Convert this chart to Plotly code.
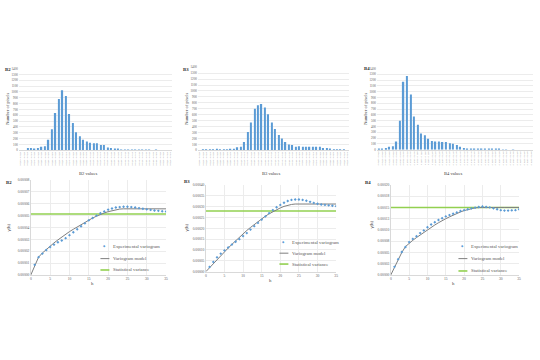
import plotly.graph_objects as go

# ---------------- data ----------------
# histogram bin labels (class ranges) per band
B2_bin_start, B2_bin_width = 0.0100, 0.0010
B3_bin_start, B3_bin_width = 0.0200, 0.0010
B4_bin_start, B4_bin_width = 0.0800, 0.0025
n_bins = 44

B2_counts = [0, 0, 40, 40, 30, 40, 60, 70, 180, 360, 640, 880, 1030, 930, 620, 470,
             310, 240, 180, 150, 130, 120, 120, 90, 90, 50, 40, 30, 20, 10, 5, 3,
             5, 3, 2, 1, 2, 1, 0, 1, 0, 0, 0, 0]
B3_counts = [0, 5, 10, 20, 20, 25, 20, 20, 20, 25, 25, 50, 60, 140, 310, 470,
             700, 760, 780, 720, 610, 470, 360, 260, 200, 140, 100, 90, 60, 70, 60, 60,
             60, 60, 60, 60, 40, 40, 30, 20, 10, 3, 2, 1]
B4_counts = [10, 20, 30, 50, 60, 140, 500, 1170, 1270, 950, 570, 430, 280, 250, 190, 150,
             140, 140, 130, 130, 110, 100, 80, 50, 30, 20, 10, 10, 10, 10, 10, 5,
             3, 2, 2, 1, 1, 0, 1, 0, 0, 0, 0, 0]

lag_h = list(range(1, 36))
model_h = list(range(0, 36))

B2_exp = [0.85, 1.5, 1.8, 2.1, 2.35, 2.55, 2.75, 2.9, 3.1, 3.35, 3.6, 3.85, 4.1, 4.35, 4.6,
          4.8, 5.0, 5.2, 5.35, 5.5, 5.6, 5.68, 5.72, 5.75, 5.75, 5.72, 5.68, 5.63, 5.58,
          5.53, 5.48, 5.43, 5.4, 5.37, 5.35]
B2_model = [0, 0.8, 1.5, 1.85, 2.15, 2.45, 2.7, 2.95, 3.2, 3.45, 3.65, 3.85, 4.05, 4.25,
            4.45, 4.6, 4.8, 4.95, 5.1, 5.22, 5.33, 5.42, 5.5, 5.55, 5.57, 5.57, 5.57, 5.57,
            5.57, 5.57, 5.57, 5.57, 5.57, 5.57, 5.57, 5.57]
B2_var = 5.14

B3_exp = [2.2, 4.5, 6.6, 8.3, 9.8, 11.2, 12.5, 13.8, 15.0, 16.4, 17.8, 19.4, 21.0, 22.5,
          24.0, 25.5, 27.0, 28.4, 29.7, 30.8, 31.8, 32.6, 33.1, 33.3, 33.3, 33.1, 32.7,
          32.2, 31.7, 31.3, 31.0, 30.8, 30.6, 30.4, 30.2]
B3_model = [0, 1.9, 3.8, 5.6, 7.4, 9.1, 10.9, 12.6, 14.3, 15.9, 17.5, 19.0, 20.4, 21.8,
            23.1, 24.4, 25.6, 26.7, 27.7, 28.6, 29.4, 30.1, 30.6, 31.0, 31.2, 31.2, 31.2,
            31.2, 31.2, 31.2, 31.2, 31.2, 31.2, 31.2, 31.2, 31.2]
B3_var = 28.0

B4_exp = [1.8, 3.5, 5.1, 6.2, 7.3, 8.0, 8.6, 9.3, 9.9, 10.6, 11.2, 11.7, 12.2, 12.6, 13.0,
          13.3, 13.6, 13.9, 14.2, 14.4, 14.6, 14.8, 14.95, 15.1, 15.2, 15.1, 15.0, 14.8,
          14.6, 14.4, 14.3, 14.3, 14.35, 14.4, 14.6]
B4_model = [0, 1.7, 3.4, 5.0, 6.3, 7.1, 7.7, 8.3, 8.9, 9.5, 10.1, 10.6, 11.1, 11.6, 12.1,
            12.5, 12.9, 13.3, 13.7, 14.0, 14.3, 14.55, 14.75, 14.9, 14.97, 15.0, 15.0, 15.0,
            15.0, 15.0, 15.0, 15.0, 15.0, 15.0, 15.0, 15.0]
B4_var = 15.0

SCALE = 1e-5  # variogram values above are in units of 1e-5

hist_yticks = list(range(0, 1401, 100))
B2_vticks = [0, 0.00001, 0.00002, 0.00003, 0.00004, 0.00005, 0.00006, 0.00007, 0.00008]
B2_vtext = ["0.00000", "0.00001", "0.00002", "0.00003", "0.00004", "0.00005", "0.00006", "0.00007", "0.00008"]
B3_vticks = [0, 0.00005, 0.0001, 0.00015, 0.0002, 0.00025, 0.0003, 0.00035, 0.0004]
B3_vtext = ["0.00000", "0.00005", "0.00010", "0.00015", "0.00020", "0.00025", "0.00030", "0.00035", "0.00040"]
B4_vticks = [0, 0.000025, 0.00005, 0.000075, 0.0001, 0.000125, 0.00015, 0.000175, 0.0002]
B4_vtext = ["0.00000", "0.00003", "0.00005", "0.00008", "0.00010", "0.00013", "0.00015", "0.00018", "0.00020"]


def bin_labels(start, width):
    return [f"{start + i * width:.4f} - {start + (i + 1) * width:.4f}" for i in range(n_bins)]


B2_labels = bin_labels(B2_bin_start, B2_bin_width)
B3_labels = bin_labels(B3_bin_start, B3_bin_width)
B4_labels = bin_labels(B4_bin_start, B4_bin_width)

# ---------------- style ----------------
FONT = "Liberation Serif"
BLUE = "#5b9bd5"
GRAY = "#7f7f7f"
GREEN = "#92d050"
GRID = "#ececec"
AXL = "#d9d9d9"
TXT = "#595959"
W, H = 540, 360

def px(x):
    return x / W

def py(y):
    return 1 - y / H

fig = go.Figure()

hist_sets = [
    ("B2", B2_labels, B2_counts, "x", "y"),
    ("B3", B3_labels, B3_counts, "x2", "y2"),
    ("B4", B4_labels, B4_counts, "x3", "y3"),
]
for name, labels, counts, xa, ya in hist_sets:
    fig.add_trace(go.Bar(x=labels, y=counts, marker=dict(color=BLUE, line_width=0),
                         xaxis=xa, yaxis=ya, showlegend=False))

vario_sets = [
    ("B2", B2_exp, B2_model, B2_var, "x4", "y4"),
    ("B3", B3_exp, B3_model, B3_var, "x5", "y5"),
    ("B4", B4_exp, B4_model, B4_var, "x6", "y6"),
]
for name, exp, model, var, xa, ya in vario_sets:
    fig.add_trace(go.Scatter(x=model_h, y=[var * SCALE] * len(model_h), mode="lines",
                             line=dict(color=GREEN, width=1.6), xaxis=xa, yaxis=ya,
                             showlegend=False))
    fig.add_trace(go.Scatter(x=model_h, y=[v * SCALE for v in model], mode="lines",
                             line=dict(color=GRAY, width=1), xaxis=xa, yaxis=ya,
                             showlegend=False))
    fig.add_trace(go.Scatter(x=lag_h, y=[v * SCALE for v in exp], mode="markers",
                             marker=dict(color=BLUE, size=2.2, symbol="diamond"),
                             xaxis=xa, yaxis=ya, showlegend=False))

layout = dict(width=W, height=H, margin=dict(l=0, r=0, t=0, b=0),
              paper_bgcolor="white", plot_bgcolor="white", bargap=0.6,
              font=dict(family=FONT, color=TXT))

hist_dom = [((18, 172), (67.3, 150)), ((198, 350), (66, 150)), ((378, 535), (67.3, 149.3))]
for i, (name, labels, counts, xa, ya) in enumerate(hist_sets):
    (x0, x1), (y0, y1) = hist_dom[i]
    kx = "xaxis" if i == 0 else f"xaxis{i + 1}"
    ky = "yaxis" if i == 0 else f"yaxis{i + 1}"
    layout[kx] = dict(domain=[px(x0), px(x1)], anchor=ya, type="category",
                      tickmode="array", tickvals=labels, ticktext=labels,
                      tickangle=-90, tickfont=dict(size=2.2, color="#8c8c8c", family=FONT),
                      showline=True, linecolor=AXL, linewidth=0.6, ticks="",
                      showgrid=False)
    layout[ky] = dict(domain=[py(y1), py(y0)], anchor=xa, range=[0, 1400],
                      tickvals=hist_yticks, tickfont=dict(size=3.2, color=TXT, family=FONT),
                      showgrid=True, gridcolor=GRID, gridwidth=0.5, zeroline=False,
                      showline=False, ticks="")

vario_dom = [((30, 166), (180, 276), 0.00008, B2_vticks, B2_vtext),
             ((206, 337), (185, 272.7), 0.0004, B3_vticks, B3_vtext),
             ((392, 521), (185, 276), 0.0002, B4_vticks, B4_vtext)]
for i, (name, exp, model, var, xa, ya) in enumerate(vario_sets):
    (x0, x1), (y0, y1), ymax, tv, tt = vario_dom[i]
    kx = f"xaxis{i + 4}"
    ky = f"yaxis{i + 4}"
    layout[kx] = dict(domain=[px(x0), px(x1)], anchor=ya, range=[0, 35], dtick=5,
                      tickfont=dict(size=3.6, color=TXT, family=FONT),
                      showgrid=True, gridcolor=GRID, gridwidth=0.5, zeroline=False,
                      showline=True, linecolor=AXL, linewidth=0.6, ticks="")
    layout[ky] = dict(domain=[py(y1), py(y0)], anchor=xa, range=[0, ymax],
                      tickvals=tv, ticktext=tt, tickfont=dict(size=3.6, color=TXT, family=FONT),
                      showgrid=True, gridcolor=GRID, gridwidth=0.5, zeroline=False,
                      showline=True, linecolor=AXL, linewidth=0.6, ticks="")

fig.update_layout(**layout)

ann = []
def text(x, y, s, size, bold=False, angle=0, color="#404040", xanchor="center"):
    ann.append(dict(x=px(x), y=py(y), xref="paper", yref="paper", text=f"<b>{s}</b>" if bold else s,
                    showarrow=False, textangle=angle, xanchor=xanchor, yanchor="middle",
                    font=dict(size=size, family=FONT, color=color)))

# histogram texts
for (lab, lx, ly), (nx, ny), (vx, vy) in [
        (("B2", 2, 68), (7, 108), (87, 173)),
        (("B3", 181, 68), (187, 108), (272, 173)),
        (("B4", 363, 67), (367, 108), (455, 173))]:
    text(lx, ly, lab, 4.8, bold=True, xanchor="left", color="#262626")
    text(nx, ny, "Number of pixels", 4.6, angle=-90)
    text(vx, vy, f"{lab} values", 4.6)

# variogram texts
for (lab, lx, ly), (gx, gy), (hx, hy) in [
        (("B2", 3, 183), (8, 228), (92, 285)),
        (("B3", 182, 182), (187, 228), (271, 282)),
        (("B4", 364, 183), (373, 225), (455, 285))]:
    text(lx, ly, lab, 4.8, bold=True, xanchor="left", color="#262626")
    text(gx, gy, "γ(h)", 4.6, angle=-90)
    text(hx, hy, "h", 4.8)

# legends (drawn in paper space)
shapes = []
legend_pos = [(100, (247, 259.5, 271)), (280, (243, 254, 265)), (460, (247, 259.5, 272))]
for sx, (e1, e2, e3) in legend_pos:
    ann.append(dict(x=px(sx + 4.5), y=py(e1), xref="paper", yref="paper", text="◆",
                    showarrow=False, xanchor="center", yanchor="middle",
                    font=dict(size=3.0, color=BLUE, family="DejaVu Sans")))
    shapes.append(dict(type="line", xref="paper", yref="paper", x0=px(sx), x1=px(sx + 9),
                       y0=py(e2), y1=py(e2), line=dict(color=GRAY, width=1)))
    shapes.append(dict(type="line", xref="paper", yref="paper", x0=px(sx), x1=px(sx + 9),
                       y0=py(e3), y1=py(e3), line=dict(color=GREEN, width=1.6)))
    text(sx + 11, e1, "Experimental variogram", 4.8, color=TXT, xanchor="left")
    text(sx + 11, e2, "Variogram model", 4.8, color=TXT, xanchor="left")
    text(sx + 11, e3, "Statistical variance", 4.8, color=TXT, xanchor="left")

fig.update_layout(annotations=ann, shapes=shapes)
fig.write_html("out.html", config={"displayModeBar": False},
               post_script="document.body.style.margin='0';")
